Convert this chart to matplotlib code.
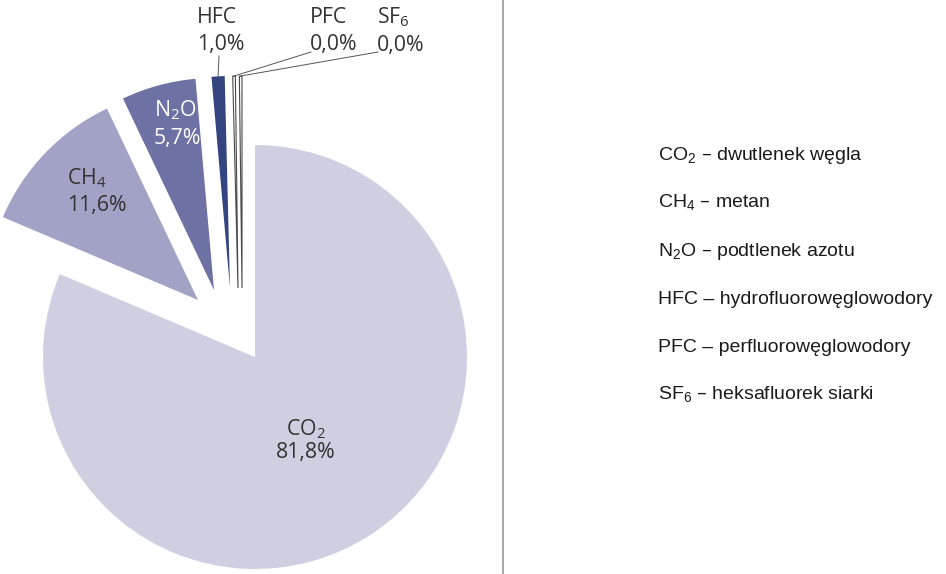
import matplotlib.pyplot as plt
import numpy as np
from matplotlib.lines import Line2D

# data (percent share)
gases = ['CO2', 'CH4', 'N2O', 'HFC', 'PFC', 'SF6']
shares = [81.8, 11.6, 5.7, 1.0, 0.0, 0.0]
pie_labels = [r'CO$_\mathregular{2}$', r'CH$_\mathregular{4}$', r'N$_\mathregular{2}$O',
              'HFC', 'PFC', r'SF$_\mathregular{6}$']
share_text = ['81,8%', '11,6%', '5,7%', '1,0%', '0,0%', '0,0%']
legend_names = ['dwutlenek węgla', 'metan', 'podtlenek azotu',
                'hydrofluorowęglowodory', 'perfluorowęglowodory', 'heksafluorek siarki']

colors = ['#cfcfe1', '#a1a2c6', '#6d71a3', '#33447f', 'white', 'white']
W, H = 946, 574
R = 212.0            # pixels per unit radius
cx, cy = 255, 357    # pie centre in pixels

def px(x, y):
    # pixel position -> data units
    return (x - cx) / R, (cy - y) / R

fig = plt.figure(figsize=(W / 100, H / 100), dpi=100)
ax = fig.add_axes([0, 0, 1, 1])

# tiny shares still get a hairline sliver, like the original
sizes = np.maximum(shares, 0.2)
wedges, _ = ax.pie(sizes, startangle=90, counterclock=False, colors=colors,
                   radius=1, wedgeprops=dict(linewidth=0))
ax.set_xlim(-cx / R, (W - cx) / R)
ax.set_ylim(-(H - cy) / R, cy / R)
ax.axis('off')

# pulled-out pieces (pixel offsets of the wedge tips)
shifts = [(0, 0), (-57, 57), (-41, 67), (-25, 69), (-17, 69), (-13, 69)]
for w, (dx, dy) in zip(wedges, shifts):
    w.set_center((dx / R, dy / R))
for w in wedges[4:]:
    w.set_edgecolor('#4a4a4a')
    w.set_linewidth(0.8)

lab_font = ['Open Sans', 'DejaVu Sans']
# label positions (left x, block centre y) in pixels
lab_pos = [(306, 440), (67, 191), (154, 124), (197, 31), (310, 31), (377, 31)]
lab_ha = ['center', 'left', 'left', 'left', 'left', 'left']
lab_col = ['#333333', '#333333', 'white', '#333333', '#333333', '#333333']
lab_ls = [1.08, 1.3, 1.38, 1.38, 1.38, 1.38]
for i in range(len(gases)):
    x, y = px(*lab_pos[i])
    ax.text(x, y, pie_labels[i] + '\n' + share_text[i], ha=lab_ha[i], va='center',
            fontsize=15.3, family=lab_font, color=lab_col[i], linespacing=lab_ls[i],
            multialignment=lab_ha[i])

# leader lines for the small pieces
for i, anchor in zip([3, 4, 5], [(219, 56), (311, 52), (378, 52)]):
    w = wedges[i]
    th = np.deg2rad((w.theta1 + w.theta2) / 2)
    c = w.center
    tx, ty = c[0] + np.cos(th), c[1] + np.sin(th)
    ax.plot([px(*anchor)[0], tx], [px(*anchor)[1], ty], color='#555555', lw=0.7)

# divider
fig.add_artist(Line2D([503 / W, 503 / W], [0, 1], color='#aaaaaa', lw=1.5))

# key on the right
leg_font = ['Liberation Sans', 'DejaVu Sans']
for i in range(len(gases)):
    y = 155 + 48 * i
    fig.text(658 / W, 1 - y / H, pie_labels[i] + ' – ' + legend_names[i],
             ha='left', va='center', fontsize=14, family=leg_font, color='#1a1a1a')

fig.savefig('out.png', dpi=100)
